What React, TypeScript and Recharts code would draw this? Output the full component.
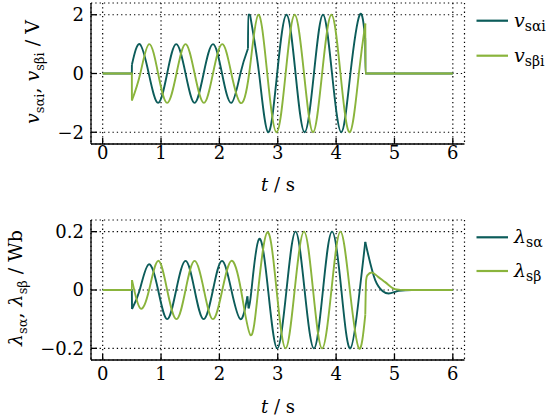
import React from 'react';
import { LineChart, Line, XAxis, YAxis, CartesianGrid, Legend } from 'recharts';

const F = 'DejaVu Serif, Liberation Serif, serif';
const DARK = '#0c5c5a';
const GREEN = '#8ab43c';

const tTicks = [0, 1, 2, 3, 4, 5, 6];
const vTicks = [-2, 0, 2];
const lamTicks = [-0.2, 0, 0.2];

type P = { t: number; v: number | null };

// ---- top: voltages (smooth wave parts, null = break) ----
const vAlphaWave: P[] = [
  { t: 0.501, v: 0.3 }, { t: 0.635, v: 1 }, { t: 0.79, v: 0 }, { t: 0.95, v: -1 },
  { t: 1.105, v: 0 }, { t: 1.26, v: 1 }, { t: 1.42, v: 0 }, { t: 1.575, v: -1 },
  { t: 1.73, v: 0 }, { t: 1.89, v: 1 }, { t: 2.045, v: 0 }, { t: 2.205, v: -1 },
  { t: 2.36, v: 0 }, { t: 2.49, v: 0.85 },
  { t: 2.494, v: null },
  { t: 2.525, v: 2 }, { t: 2.68, v: 0 }, { t: 2.835, v: -2 },
  { t: 2.99, v: 0 }, { t: 3.15, v: 2 }, { t: 3.305, v: 0 }, { t: 3.46, v: -2 },
  { t: 3.62, v: 0 }, { t: 3.775, v: 2 }, { t: 3.93, v: 0 }, { t: 4.09, v: -2 },
  { t: 4.245, v: 0 }, { t: 4.405, v: 2 }, { t: 4.5, v: 1.16 },
];
const vAlphaSteps: P[] = [
  { t: 0, v: 0 }, { t: 0.5, v: 0 }, { t: 0.501, v: 0.3 },
  { t: 1.5, v: null },
  { t: 2.49, v: 0.85 }, { t: 2.493, v: 2 }, { t: 2.525, v: 2 },
  { t: 3.5, v: null },
  { t: 4.5, v: 1.16 }, { t: 4.502, v: 0 }, { t: 6, v: 0 },
];
const vBetaWave: P[] = [
  { t: 0.501, v: -0.92 }, { t: 0.645, v: 0 }, { t: 0.795, v: 1 }, { t: 0.95, v: 0 },
  { t: 1.105, v: -1 }, { t: 1.265, v: 0 }, { t: 1.42, v: 1 }, { t: 1.575, v: 0 },
  { t: 1.735, v: -1 }, { t: 1.89, v: 0 }, { t: 2.05, v: 1 }, { t: 2.205, v: 0 },
  { t: 2.36, v: -1 }, { t: 2.51, v: 0 }, { t: 2.665, v: 2 }, { t: 2.82, v: 0 },
  { t: 2.98, v: -2 }, { t: 3.135, v: 0 }, { t: 3.29, v: 2 }, { t: 3.45, v: 0 },
  { t: 3.605, v: -2 }, { t: 3.76, v: 0 }, { t: 3.92, v: 2 }, { t: 4.075, v: 0 },
  { t: 4.235, v: -2 }, { t: 4.39, v: 0 }, { t: 4.5, v: 1.7 },
];
const vBetaSteps: P[] = [
  { t: 0, v: 0 }, { t: 0.5, v: 0 }, { t: 0.501, v: -0.92 },
  { t: 2.5, v: null },
  { t: 4.5, v: 1.7 }, { t: 4.502, v: 0 }, { t: 6, v: 0 },
];

// ---- bottom: flux linkages ----
const lamAlphaWave: P[] = [
  { t: 0.503, v: -0.065 }, { t: 0.635, v: 0 }, { t: 0.79, v: 0.088 }, { t: 0.95, v: 0 },
  { t: 1.105, v: -0.1 }, { t: 1.26, v: 0 }, { t: 1.42, v: 0.1 }, { t: 1.575, v: 0 },
  { t: 1.73, v: -0.1 }, { t: 1.89, v: 0 }, { t: 2.045, v: 0.1 }, { t: 2.205, v: 0 },
  { t: 2.36, v: -0.1 }, { t: 2.48, v: -0.022 },
  { t: 2.49, v: null },
  { t: 2.5, v: -0.063 }, { t: 2.55, v: 0 }, { t: 2.68, v: 0.175 }, { t: 2.835, v: 0 },
  { t: 2.99, v: -0.2 }, { t: 3.15, v: 0 }, { t: 3.305, v: 0.2 }, { t: 3.46, v: 0 },
  { t: 3.62, v: -0.2 }, { t: 3.775, v: 0 }, { t: 3.93, v: 0.2 }, { t: 4.09, v: 0 },
  { t: 4.245, v: -0.2 }, { t: 4.405, v: 0 }, { t: 4.5, v: 0.165 },
];
const lamAlphaSteps: P[] = [
  { t: 0, v: 0 }, { t: 0.5, v: 0 }, { t: 0.503, v: -0.065 },
  { t: 1.5, v: null },
  { t: 2.48, v: -0.022 }, { t: 2.5, v: -0.063 },
  { t: 3.5, v: null },
  { t: 4.5, v: 0.165 }, { t: 4.67, v: 0.034 }, { t: 4.8, v: -0.004 }, { t: 4.9, v: -0.012 },
  { t: 5.07, v: -0.003 }, { t: 5.3, v: 0 }, { t: 6, v: 0 },
];
const lamBetaWave: P[] = [
  { t: 0.503, v: 0.034 }, { t: 0.645, v: -0.063 }, { t: 0.795, v: 0 }, { t: 0.95, v: 0.1 },
  { t: 1.105, v: 0 }, { t: 1.265, v: -0.1 }, { t: 1.42, v: 0 }, { t: 1.575, v: 0.1 },
  { t: 1.735, v: 0 }, { t: 1.89, v: -0.1 }, { t: 2.05, v: 0 }, { t: 2.205, v: 0.1 },
  { t: 2.37, v: 0 }, { t: 2.535, v: -0.155 }, { t: 2.665, v: 0 }, { t: 2.825, v: 0.198 },
  { t: 2.98, v: 0 }, { t: 3.135, v: -0.2 }, { t: 3.29, v: 0 }, { t: 3.45, v: 0.2 },
  { t: 3.605, v: 0 }, { t: 3.76, v: -0.2 }, { t: 3.92, v: 0 }, { t: 4.075, v: 0.2 },
  { t: 4.235, v: 0 }, { t: 4.39, v: -0.2 }, { t: 4.5, v: -0.085 },
];
const lamBetaSteps: P[] = [
  { t: 0, v: 0 }, { t: 0.5, v: 0 }, { t: 0.503, v: 0.034 },
  { t: 2.5, v: null },
  { t: 4.5, v: -0.085 }, { t: 4.515, v: 0.035 }, { t: 4.535, v: 0.05 }, { t: 4.61, v: 0.06 },
  { t: 4.72, v: 0.045 }, { t: 4.84, v: 0.027 }, { t: 5.01, v: 0.003 }, { t: 5.2, v: 0 }, { t: 6, v: 0 },
];

const fmt = (v: number) => (v < 0 ? '\u2212' + Math.abs(v) : String(v));
const tickStyle = { fill: '#000', fontSize: 18, fontFamily: F };
const SUB = 13;

const line = (data: P[], color: string, type: 'natural' | 'monotone', key: string) => (
  <Line
    key={key}
    data={data}
    dataKey="v"
    type={type}
    stroke={color}
    strokeWidth={1.9}
    dot={false}
    activeDot={false}
    connectNulls={false}
    isAnimationActive={false}
  />
);

const frameAxes = (domainY: number[], ticksY: number[], tickMarginX: number, xHeight: number, titleY: number, yTitle: React.ReactNode) => [
  <XAxis
    key="xb"
    dataKey="t"
    type="number"
    domain={[-0.2, 6.2]}
    ticks={tTicks}
    allowDataOverflow
    height={xHeight}
    tickSize={-6}
    tickMargin={tickMarginX}
    tick={tickStyle}
    axisLine={{ stroke: '#000', strokeWidth: 1.3 }}
    tickLine={{ stroke: '#000', strokeWidth: 1.3 }}
    label={() => (
      <text x={278} y={titleY} textAnchor="middle" fontFamily={F} fontSize={18} fill="#000">
        <tspan fontStyle="italic">t</tspan> / s
      </text>
    )}
  />,
  <XAxis
    key="xt"
    xAxisId="top"
    orientation="top"
    dataKey="t"
    type="number"
    domain={[-0.2, 6.2]}
    ticks={tTicks}
    allowDataOverflow
    height={0}
    tickSize={-6}
    tick={false}
    axisLine={{ stroke: '#000', strokeWidth: 1.3 }}
    tickLine={{ stroke: '#000', strokeWidth: 1.3 }}
  />,
  <YAxis
    key="yl"
    type="number"
    domain={domainY}
    ticks={ticksY}
    allowDataOverflow
    width={91}
    tickSize={-6}
    tickMargin={13}
    tick={tickStyle}
    tickFormatter={fmt}
    axisLine={{ stroke: '#000', strokeWidth: 1.3 }}
    tickLine={{ stroke: '#000', strokeWidth: 1.3 }}
    label={() => yTitle}
  />,
  <YAxis
    key="yr"
    yAxisId="right"
    orientation="right"
    type="number"
    domain={domainY}
    ticks={ticksY}
    allowDataOverflow
    width={0}
    tickSize={-6}
    tick={false}
    axisLine={{ stroke: '#000', strokeWidth: 1.3 }}
    tickLine={{ stroke: '#000', strokeWidth: 1.3 }}
  />,
];

const legendBox = (items: { color: string; main: string; sub: string; ly: number; ty: number }[]) => () => (
  <svg width={82} height={80} style={{ overflow: 'visible', display: 'block' }}>
    {items.map((it, i) => (
      <g key={i}>
        <line x1={6.5} x2={38} y1={it.ly} y2={it.ly} stroke={it.color} strokeWidth={2.2} />
        <text x={44} y={it.ty} fontFamily={F} fontSize={19} fill="#000">
          <tspan fontStyle="italic">{it.main}</tspan>
          <tspan fontSize={14} dy={4}>{it.sub}</tspan>
        </text>
      </g>
    ))}
  </svg>
);

const topTitle = (
  <text transform="translate(39,72) rotate(-90)" textAnchor="middle" fontFamily={F} fontSize={19} fill="#000">
    <tspan fontStyle="italic">v</tspan>
    <tspan fontSize={SUB} dy={5}>s{'\u03b1'}i</tspan>
    <tspan dy={-5}>, </tspan>
    <tspan fontStyle="italic">v</tspan>
    <tspan fontSize={SUB} dy={5}>s{'\u03b2'}i</tspan>
    <tspan dy={-5}> / V</tspan>
  </text>
);
const bottomTitle = (
  <text transform="translate(22,80) rotate(-90)" textAnchor="middle" fontFamily={F} fontSize={19} fill="#000">
    <tspan fontStyle="italic">{'\u03bb'}</tspan>
    <tspan fontSize={SUB} dy={5}>s{'\u03b1'}</tspan>
    <tspan dy={-5}>, </tspan>
    <tspan fontStyle="italic">{'\u03bb'}</tspan>
    <tspan fontSize={SUB} dy={5}>s{'\u03b2'}</tspan>
    <tspan dy={-5}> / Wb</tspan>
  </text>
);

export default function App() {
  return (
    <div style={{ position: 'absolute', left: 0, top: 0, width: 550, height: 416, background: '#fff' }}>
      <div style={{ position: 'absolute', left: 0, top: 0 }}>
        <LineChart width={550} height={208} margin={{ top: 3, right: 85.5, bottom: 0, left: 0 }}>
          <CartesianGrid stroke="#000" strokeDasharray="1.3 3" strokeWidth={1.2} />
          {frameAxes([-2.4, 2.4], vTicks, 8, 64, 191, topTitle)}
          {line(vAlphaSteps, DARK, 'monotone', 'a1')}
          {line(vAlphaWave, DARK, 'natural', 'a2')}
          {line(vBetaSteps, GREEN, 'monotone', 'b1')}
          {line(vBetaWave, GREEN, 'natural', 'b2')}
          <Legend
            layout="horizontal"
            verticalAlign="middle"
            wrapperStyle={{ position: 'absolute', left: 470, top: 0, width: 80, height: 70 }}
            content={legendBox([
              { color: DARK, main: 'v', sub: 's\u03b1i', ly: 20.7, ty: 26.7 },
              { color: GREEN, main: 'v', sub: 's\u03b2i', ly: 55.7, ty: 61.7 },
            ])}
          />
        </LineChart>
      </div>
      <div style={{ position: 'absolute', left: 0, top: 208 }}>
        <LineChart width={550} height={208} margin={{ top: 12, right: 85.5, bottom: 0, left: 0 }}>
          <CartesianGrid stroke="#000" strokeDasharray="1.3 3" strokeWidth={1.2} />
          {frameAxes([-0.24, 0.24], lamTicks, 13, 56, 205, bottomTitle)}
          {line(lamAlphaSteps, DARK, 'monotone', 'c1')}
          {line(lamAlphaWave, DARK, 'natural', 'c2')}
          {line(lamBetaSteps, GREEN, 'monotone', 'd1')}
          {line(lamBetaWave, GREEN, 'natural', 'd2')}
          <Legend
            layout="horizontal"
            verticalAlign="middle"
            wrapperStyle={{ position: 'absolute', left: 470, top: 0, width: 80, height: 80 }}
            content={legendBox([
              { color: DARK, main: '\u03bb', sub: 's\u03b1', ly: 29.3, ty: 35 },
              { color: GREEN, main: '\u03bb', sub: 's\u03b2', ly: 63, ty: 69 },
            ])}
          />
        </LineChart>
      </div>
    </div>
  );
}
